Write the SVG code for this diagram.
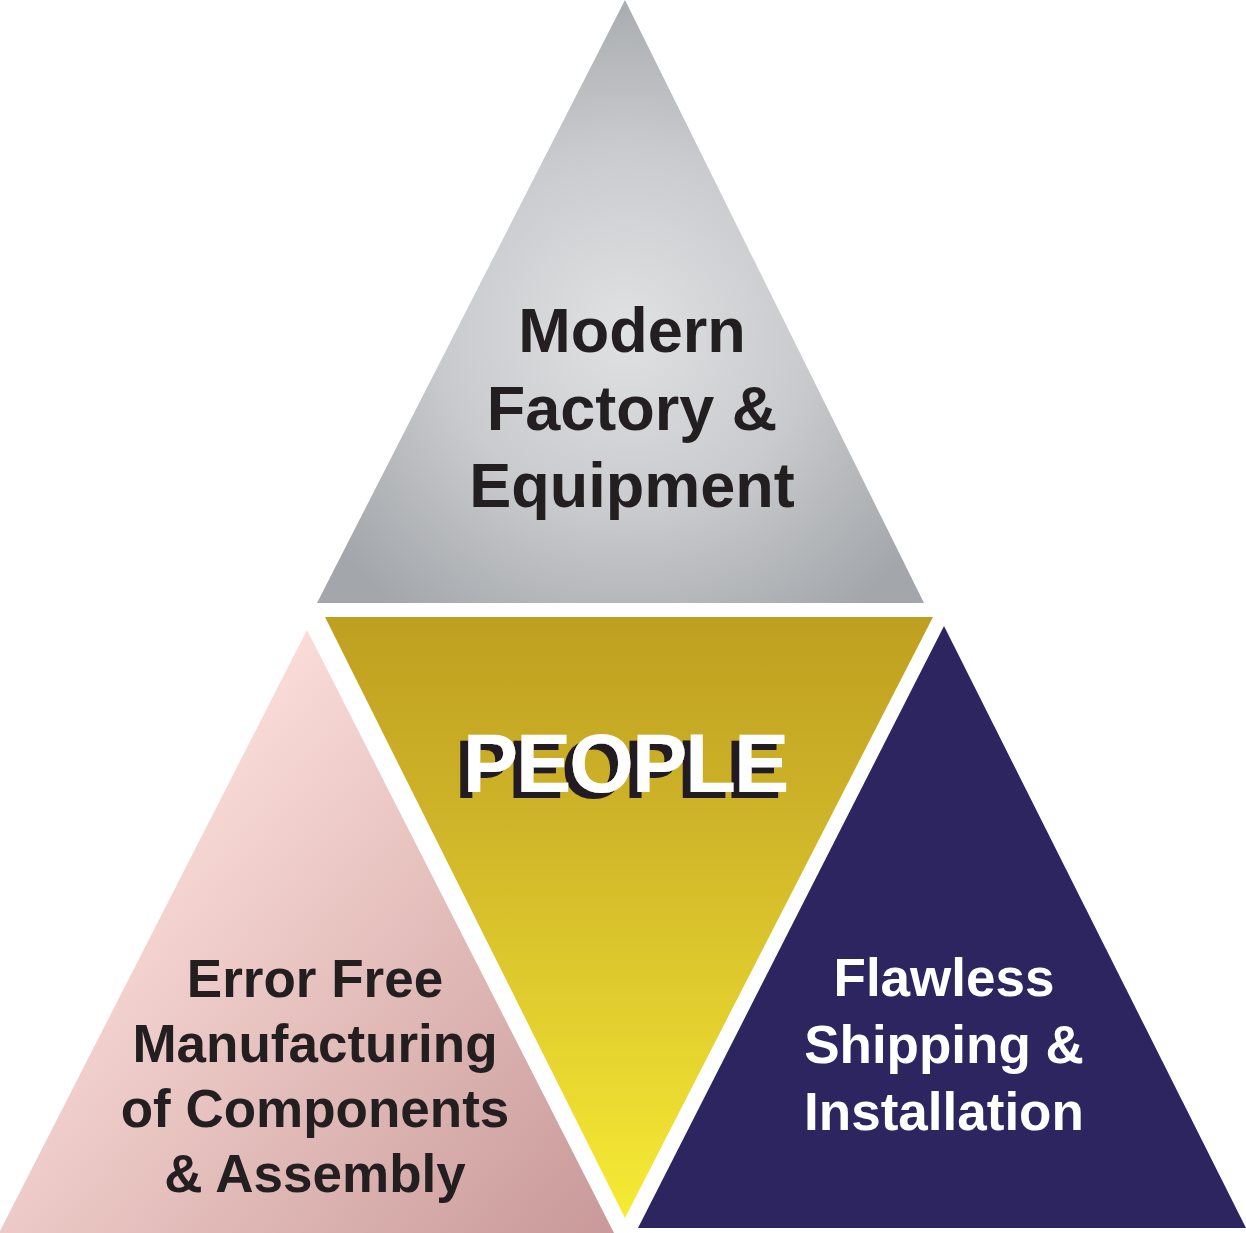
<svg xmlns="http://www.w3.org/2000/svg" width="1246" height="1233" viewBox="0 0 1246 1233">
<defs>
<radialGradient id="gGray" cx="625" cy="330" r="360" gradientUnits="userSpaceOnUse">
<stop offset="0" stop-color="#e0e1e3"/>
<stop offset="0.5" stop-color="#c9cbce"/>
<stop offset="1" stop-color="#a3a6aa"/>
</radialGradient>
<linearGradient id="gGold" x1="0" y1="617" x2="0" y2="1218" gradientUnits="userSpaceOnUse">
<stop offset="0" stop-color="#bf9f20"/>
<stop offset="0.35" stop-color="#cfb529"/>
<stop offset="1" stop-color="#f7eb34"/>
</linearGradient>
<linearGradient id="gPink" x1="100" y1="800" x2="600" y2="1233" gradientUnits="userSpaceOnUse">
<stop offset="0" stop-color="#fde0dc"/>
<stop offset="1" stop-color="#c99a99"/>
</linearGradient>
<filter id="hardShadow" x="-10%" y="-20%" width="120%" height="140%">
<feOffset in="SourceAlpha" dx="-8" dy="6" result="off"/>
<feFlood flood-color="#231f20"/>
<feComposite in2="off" operator="in" result="shadow"/>
<feMerge>
<feMergeNode in="shadow"/>
<feMergeNode in="SourceGraphic"/>
</feMerge>
</filter>
<style>
.lbl{font-family:"Liberation Sans",Arial,sans-serif;font-weight:bold;text-anchor:middle}
.dark{fill:#231f20}
.light{fill:#ffffff}
</style>
</defs>
<rect width="1246" height="1233" fill="#ffffff"/>
<g id="top">
<polygon points="625,0 317,603 924,603" fill="url(#gGray)"/>
<text class="lbl dark" font-size="63" x="632" y="352">Modern</text>
<text class="lbl dark" font-size="63" x="632" y="430">Factory &amp;</text>
<text class="lbl dark" font-size="63" x="632" y="507">Equipment</text>
</g>
<g id="left">
<polygon points="307,630 -1,1233 614,1233" fill="url(#gPink)"/>
<text class="lbl dark" font-size="53" x="315" y="997">Error Free</text>
<text class="lbl dark" font-size="53" x="315" y="1062">Manufacturing</text>
<text class="lbl dark" font-size="53" x="315" y="1127">of Components</text>
<text class="lbl dark" font-size="53" x="315" y="1192">&amp; Assembly</text>
</g>
<g id="center">
<polygon points="325,617 933,617 625,1218" fill="url(#gGold)"/>
<text class="lbl light" font-size="83" letter-spacing="-2" x="625" y="792" filter="url(#hardShadow)">PEOPLE</text>
</g>
<g id="right">
<polygon points="944,626 638,1228 1246,1228" fill="#2d255f"/>
<text class="lbl light" font-size="53" x="944" y="996">Flawless</text>
<text class="lbl light" font-size="53" x="944" y="1063">Shipping &amp;</text>
<text class="lbl light" font-size="53" x="944" y="1130">Installation</text>
</g>
<g id="connectors"/>
</svg>
